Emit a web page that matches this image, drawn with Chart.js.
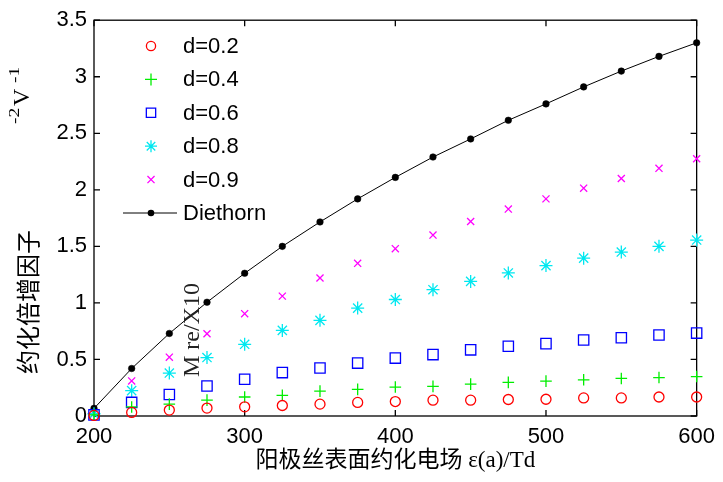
<!DOCTYPE html>
<html><head><meta charset="utf-8">
<script src="https://cdn.jsdelivr.net/npm/chart.js@4.4.0/dist/chart.umd.min.js"></script>
<style>html,body{margin:0;padding:0;background:#fff;} #wrap{width:723px;height:482px;}</style>
</head><body><div id="wrap"><canvas id="c" width="723" height="482"></canvas></div>
<script>
const xValues = [200,225,250,275,300,325,350,375,400,425,450,475,500,525,550,575,600];
const d02 = [0.005,0.032,0.052,0.070,0.081,0.093,0.105,0.120,0.128,0.140,0.140,0.146,0.148,0.160,0.160,0.168,0.168];
const d04 = [0.010,0.080,0.105,0.140,0.168,0.183,0.220,0.235,0.256,0.262,0.282,0.297,0.308,0.320,0.332,0.340,0.349];
const d06 = [0.010,0.120,0.190,0.265,0.325,0.384,0.425,0.468,0.512,0.543,0.585,0.617,0.640,0.672,0.692,0.716,0.733];
const d08 = [0.020,0.224,0.380,0.517,0.634,0.757,0.846,0.954,1.030,1.117,1.190,1.265,1.330,1.396,1.450,1.500,1.556];
const d09 = [0.020,0.310,0.520,0.727,0.905,1.060,1.220,1.350,1.480,1.600,1.720,1.830,1.920,2.015,2.100,2.190,2.275];
const diethorn = [0.067,0.420,0.730,1.006,1.262,1.500,1.716,1.920,2.110,2.290,2.450,2.615,2.760,2.910,3.050,3.180,3.300];
const seriesLabels = ['d=0.2','d=0.4','d=0.6','d=0.8','d=0.9','Diethorn'];
const xTicks = [200,300,400,500,600];
const yTicks = [0,0.5,1,1.5,2,2.5,3,3.5];
const xTitle = '阳极丝表面约化电场 ε(a)/Td';
const yTitleMain = '约化倍增因子';
const yTitleUnit = ['-2','V','-1'];
const annotationText = 'M re/X10';

const styles = [
  {color:'#ff0000', pointStyle:'circle', r:5, lr:4.6},
  {color:'#00ee00', pointStyle:'cross', r:5.8, lr:6},
  {color:'#0000ff', pointStyle:'rect', r:7.3, lr:6.6},
  {color:'#00e8f0', pointStyle:'star', r:6.5, lr:6},
  {color:'#ff00ff', pointStyle:'crossRot', r:5, lr:5},
];
const seriesData = [d02,d04,d06,d08,d09];

function pts(arr){ return xValues.map((x,i)=>({x:x, y:arr[i]})); }

const datasets = seriesData.map((arr,i)=>({
  label: seriesLabels[i], data: pts(arr), showLine:false,
  pointStyle: styles[i].pointStyle, pointRadius: styles[i].r, pointHoverRadius: styles[i].r,
  borderColor: styles[i].color, pointBorderColor: styles[i].color,
  pointBackgroundColor:'rgba(0,0,0,0)', backgroundColor:'rgba(0,0,0,0)',
  pointBorderWidth:1.3, clip:false
}));
datasets.push({
  label: seriesLabels[5], data: pts(diethorn), showLine:true, tension:0,
  borderColor:'#000', borderWidth:1, pointStyle:'circle', pointRadius:3.3, pointHoverRadius:3.3,
  pointBackgroundColor:'#000', pointBorderColor:'#000', pointBorderWidth:0.5, clip:false
});

function marker(ctx, style, x, y, r){
  ctx.beginPath();
  const d = r*Math.SQRT1_2;
  if (style==='circle'){ ctx.arc(x,y,r,0,Math.PI*2); }
  else if (style==='rect'){ ctx.rect(x-d,y-d,2*d,2*d); }
  else if (style==='cross'){ ctx.moveTo(x-r,y);ctx.lineTo(x+r,y);ctx.moveTo(x,y-r);ctx.lineTo(x,y+r); }
  else if (style==='crossRot'){ ctx.moveTo(x-d,y-d);ctx.lineTo(x+d,y+d);ctx.moveTo(x-d,y+d);ctx.lineTo(x+d,y-d); }
  else if (style==='star'){ ctx.moveTo(x-r,y);ctx.lineTo(x+r,y);ctx.moveTo(x,y-r);ctx.lineTo(x,y+r);
    ctx.moveTo(x-d,y-d);ctx.lineTo(x+d,y+d);ctx.moveTo(x-d,y+d);ctx.lineTo(x+d,y-d); }
  ctx.stroke();
}

const framePlugin = {
  id:'frame',
  beforeDatasetsDraw(chart){
    const {ctx, chartArea:a, scales} = chart;
    ctx.save();
    ctx.strokeStyle='#000'; ctx.lineWidth=1.3;
    ctx.strokeRect(a.left, a.top, a.right-a.left, a.bottom-a.top);
    ctx.beginPath();
    xTicks.forEach(v=>{ const x=scales.x.getPixelForValue(v);
      ctx.moveTo(x,a.bottom);ctx.lineTo(x,a.bottom-6); ctx.moveTo(x,a.top);ctx.lineTo(x,a.top+6); });
    yTicks.forEach(v=>{ const y=scales.y.getPixelForValue(v);
      ctx.moveTo(a.left,y);ctx.lineTo(a.left+6,y); ctx.moveTo(a.right,y);ctx.lineTo(a.right-6,y); });
    ctx.stroke();
    ctx.restore();
  },
  afterDraw(chart){
    const ctx = chart.ctx;
    ctx.save();
    // legend
    const y0 = 46, dy = 33.4, mx = 151, tx = 183;
    ctx.font = '22px "Liberation Sans", Arial, sans-serif';
    ctx.textBaseline='middle'; ctx.textAlign='left';
    for (let i=0;i<6;i++){
      const y = y0 + i*dy;
      if (i<5){
        ctx.strokeStyle = styles[i].color; ctx.lineWidth=1.3;
        marker(ctx, styles[i].pointStyle, mx, y, styles[i].lr);
      } else {
        ctx.strokeStyle='#000'; ctx.lineWidth=1;
        ctx.beginPath(); ctx.moveTo(123,y); ctx.lineTo(177,y); ctx.stroke();
        ctx.fillStyle='#000'; ctx.beginPath(); ctx.arc(mx,y,3.3,0,Math.PI*2); ctx.fill();
      }
      ctx.fillStyle='#000';
      ctx.fillText(chart.data.datasets[i].label, tx, y+1);
    }
    // y title main
    ctx.save();
    ctx.translate(28, 302); ctx.rotate(-Math.PI/2);
    ctx.font = '24px "Noto Sans CJK SC", sans-serif';
    ctx.textAlign='center'; ctx.textBaseline='middle'; ctx.fillStyle='#000';
    ctx.fillText(yTitleMain, 0, 0);
    ctx.restore();
    // y title unit
    ctx.save();
    ctx.translate(29, 124); ctx.rotate(-Math.PI/2);
    ctx.fillStyle='#000'; ctx.textAlign='left'; ctx.textBaseline='alphabetic';
    ctx.save(); ctx.font='14px "Liberation Serif", serif'; ctx.scale(1.4,1); ctx.fillText(yTitleUnit[0],0,-10); ctx.restore();
    ctx.font='24px "Liberation Serif", serif'; ctx.fillText(yTitleUnit[1],18,0);
    ctx.save(); ctx.translate(41,0); ctx.font='14px "Liberation Serif", serif'; ctx.scale(1.4,1); ctx.fillText(yTitleUnit[2],0,-10); ctx.restore();
    ctx.restore();
    // annotation
    ctx.save();
    ctx.translate(199, 377); ctx.rotate(-Math.PI/2);
    ctx.font='24px "Liberation Serif", serif'; ctx.fillStyle='#222';
    ctx.textAlign='left'; ctx.textBaseline='alphabetic';
    ctx.fillText(annotationText, 0, 0);
    ctx.restore();
    ctx.restore();
  }
};

Chart.defaults.font.family = '"Liberation Sans", Arial, sans-serif';
Chart.defaults.color = '#000';

new Chart(document.getElementById('c'), {
  type:'scatter',
  data:{ datasets },
  options:{
    responsive:false, animation:false,
    layout:{ padding:{ left:0, top:15, right:21, bottom:0 } },
    plugins:{ legend:{display:false}, tooltip:{enabled:false} },
    scales:{
      x:{ type:'linear', min:200, max:600,
        afterBuildTicks: s=>{ s.ticks = xTicks.map(v=>({value:v})); },
        afterFit: s=>{ s.height = 66; },
        grid:{ display:false, drawTicks:false }, border:{display:false},
        ticks:{ font:{size:22}, color:'#000', padding:8, maxRotation:0, autoSkip:false, callback:v=>String(v) },
        title:{ display:true, text:xTitle, color:'#000',
          font:{ family:'"Liberation Serif", "Noto Sans CJK SC", serif', size:23 },
          padding:{ top:0, bottom:7 } }
      },
      y:{ type:'linear', min:0, max:3.5,
        afterBuildTicks: s=>{ s.ticks = yTicks.map(v=>({value:v})); },
        afterFit: s=>{ s.width = 94; },
        grid:{ display:false, drawTicks:false }, border:{display:false},
        ticks:{ font:{size:22}, color:'#000', padding:7, autoSkip:false, callback:v=>String(v) }
      }
    }
  },
  plugins:[framePlugin]
});
</script></body></html>
